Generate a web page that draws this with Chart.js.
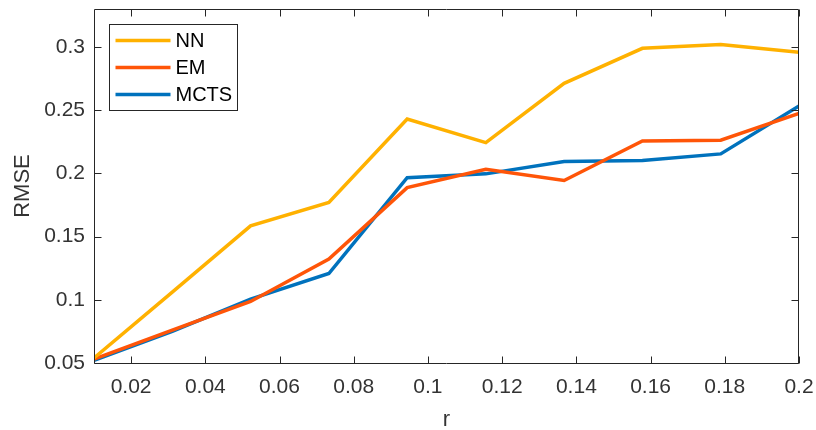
<!DOCTYPE html>
<html>
<head>
<meta charset="utf-8">
<title>RMSE vs r</title>
<script src="https://cdn.jsdelivr.net/npm/chart.js@4.4.1/dist/chart.umd.min.js"></script>
<style>
  html, body { margin: 0; padding: 0; background: #ffffff; }
  #wrap { width: 816px; height: 430px; }
</style>
</head>
<body>
<div id="wrap"><canvas id="c" width="816" height="430"></canvas></div>
<script>
// Sample points along r
const rValues = [0.01, 0.0311, 0.0522, 0.0733, 0.0944, 0.1156, 0.1367, 0.1578, 0.1789, 0.2];

// RMSE per method
const nnRmse   = [0.054, 0.106, 0.1585, 0.177, 0.243, 0.2243, 0.2712, 0.2989, 0.302, 0.2957];
const emRmse   = [0.053, 0.076, 0.0987, 0.1322, 0.1887, 0.2033, 0.1943, 0.2256, 0.2262, 0.2475];
const mctsRmse = [0.052, 0.075, 0.1006, 0.1208, 0.1966, 0.1996, 0.2093, 0.2101, 0.2154, 0.2533];

const seriesNames = ['NN', 'EM', 'MCTS'];
const seriesColors = ['#FFB100', '#FF5508', '#0072BD'];

// Axis ticks and their labels
const xTickValues = [0.02, 0.04, 0.06, 0.08, 0.1, 0.12, 0.14, 0.16, 0.18, 0.2];
const xTickLabels = ['0.02', '0.04', '0.06', '0.08', '0.1', '0.12', '0.14', '0.16', '0.18', '0.2'];
const yTickValues = [0.05, 0.1, 0.15, 0.2, 0.25, 0.3];
const yTickLabels = ['0.05', '0.1', '0.15', '0.2', '0.25', '0.3'];

const FONT = '"Liberation Sans", Arial, Helvetica, sans-serif';
const INK = '#262626';

function pts(ys) { return rValues.map((x, i) => ({ x: x, y: ys[i] })); }

// Keep the plot box exactly where the layout padding puts it
function noEdgePadding(scale) {
  scale.paddingLeft = 0; scale.paddingRight = 0;
  scale.paddingTop = 0; scale.paddingBottom = 0;
}

// Box around the axes with inward tick marks on all four sides, plus an inset legend
const boxAndLegend = {
  id: 'boxAndLegend',
  afterDraw(chart) {
    const ctx = chart.ctx;
    const a = chart.chartArea;
    const xs = chart.scales.x, ys = chart.scales.y;
    const tick = 7;
    const L = Math.round(a.left) + 0.5, R = Math.round(a.right) - 0.5;
    const T = Math.round(a.top) + 0.5, B = Math.round(a.bottom) + 0.5;
    ctx.save();
    ctx.strokeStyle = INK;
    ctx.lineWidth = 1;
    ctx.beginPath();
    ctx.rect(L, T, R - L, B - T);
    ctx.stroke();
    ctx.beginPath();
    xs.ticks.forEach((t, i) => {
      const px = Math.round(xs.getPixelForTick(i)) + 0.5;
      ctx.moveTo(px, B); ctx.lineTo(px, B - tick);
      ctx.moveTo(px, T); ctx.lineTo(px, T + tick);
    });
    ys.ticks.forEach((t, i) => {
      const py = Math.round(ys.getPixelForTick(i)) + 0.5;
      ctx.moveTo(L, py); ctx.lineTo(L + tick, py);
      ctx.moveTo(R, py); ctx.lineTo(R - tick, py);
    });
    ctx.stroke();

    // Legend
    const lx = L + 15, ly = T + 15, lw = 128, lh = 86;
    ctx.fillStyle = '#ffffff';
    ctx.fillRect(lx, ly, lw, lh);
    ctx.strokeStyle = INK;
    ctx.lineWidth = 1;
    ctx.strokeRect(lx, ly, lw, lh);
    ctx.font = '20px ' + FONT;
    ctx.textBaseline = 'middle';
    ctx.textAlign = 'left';
    chart.data.datasets.forEach((ds, i) => {
      const rowY = ly + 16 + i * 27;
      ctx.strokeStyle = ds.borderColor;
      ctx.lineWidth = 3.5;
      ctx.beginPath();
      ctx.moveTo(lx + 6, rowY);
      ctx.lineTo(lx + 61, rowY);
      ctx.stroke();
      ctx.fillStyle = '#000000';
      ctx.fillText(ds.label, lx + 66, rowY + 1);
    });
    ctx.restore();
  }
};

new Chart(document.getElementById('c'), {
  type: 'line',
  data: {
    datasets: [nnRmse, emRmse, mctsRmse].map((ys, i) => ({
      label: seriesNames[i],
      data: pts(ys),
      borderColor: seriesColors[i],
      backgroundColor: seriesColors[i],
      borderWidth: 3.5,
      pointRadius: 0,
      tension: 0,
      fill: false
    }))
  },
  options: {
    responsive: false,
    animation: false,
    devicePixelRatio: 1,
    layout: { padding: { top: 9, right: 17, left: 0, bottom: 0 } },
    plugins: { legend: { display: false }, tooltip: { enabled: false } },
    scales: {
      x: {
        type: 'linear',
        min: 0.01,
        max: 0.2,
        grid: { display: false, drawTicks: false },
        border: { display: false },
        afterBuildTicks(scale) { scale.ticks = xTickValues.map(v => ({ value: v })); },
        afterFit(scale) { scale.height = 67; noEdgePadding(scale); },
        ticks: {
          padding: 12,
          color: '#333333',
          font: { family: FONT, size: 21 },
          maxRotation: 0,
          autoSkip: false,
          callback(v) { const k = xTickValues.findIndex(t => Math.abs(t - v) < 1e-9); return k >= 0 ? xTickLabels[k] : ''; }
        },
        title: { display: true, text: 'r', color: '#333333', font: { family: FONT, size: 22, lineHeight: 1 }, padding: { top: 0, bottom: -1 } }
      },
      y: {
        type: 'linear',
        min: 0.05,
        max: 0.33,
        grid: { display: false, drawTicks: false },
        border: { display: false },
        afterBuildTicks(scale) { scale.ticks = yTickValues.map(v => ({ value: v })); },
        afterFit(scale) { scale.width = 94; noEdgePadding(scale); },
        ticks: {
          padding: 9,
          color: '#333333',
          font: { family: FONT, size: 21 },
          autoSkip: false,
          callback(v) { const k = yTickValues.findIndex(t => Math.abs(t - v) < 1e-9); return k >= 0 ? yTickLabels[k] : ''; }
        },
        title: { display: true, text: 'RMSE', color: '#333333', font: { family: FONT, size: 22, lineHeight: 1 }, padding: { top: 12, bottom: 4 } }
      }
    }
  },
  plugins: [boxAndLegend]
});
</script>
</body>
</html>
